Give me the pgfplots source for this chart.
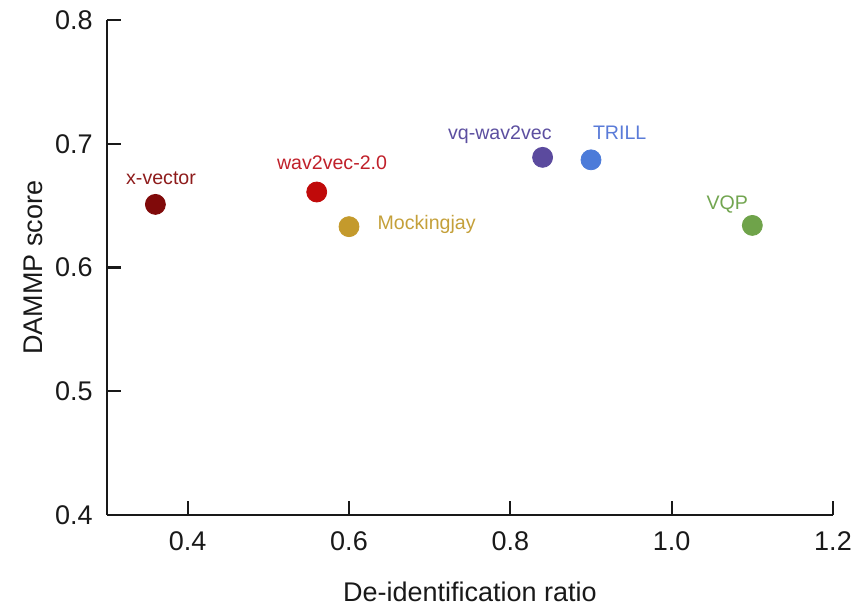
\documentclass[border=0pt]{standalone}
\usepackage{pgfplots}
\pgfplotsset{compat=1.18}
\usepackage{fontspec}
\setmainfont{Liberation Sans}
\definecolor{cxv}{HTML}{800A0A}
\definecolor{cw2}{HTML}{C00A0A}
\definecolor{cmj}{HTML}{C49A2C}
\definecolor{cvq}{HTML}{5B4A9E}
\definecolor{ctr}{HTML}{4C7BD9}
\definecolor{cvqp}{HTML}{6FA34A}
\definecolor{txv}{HTML}{8E1C1C}
\definecolor{tw2}{HTML}{C0202A}
\definecolor{tmj}{HTML}{C4A03A}
\definecolor{tvq}{HTML}{5C4FA0}
\definecolor{ttr}{HTML}{5A7BD8}
\definecolor{tvqp}{HTML}{72A550}
\begin{document}
\begin{tikzpicture}
\begin{axis}[
  name=ax,
  scale only axis,
  width=363pt, height=247.5pt,
  xmin=0.3, xmax=1.2, ymin=0.4, ymax=0.8,
  axis x line*=bottom, axis y line*=left,
  axis line style={-, line width=1.1pt, black!90},
  tick style={line width=1.1pt, black!90},
  major tick length=7pt,
  tick align=inside,
  xtick={0.4,0.6,0.8,1.0,1.2},
  ytick={0.4,0.5,0.6,0.7,0.8},
  /pgf/number format/assume math mode=true,
  /pgf/number format/fixed, /pgf/number format/fixed zerofill, /pgf/number format/precision=1,
  tick label style={font=\fontsize{13.5}{16}\selectfont, text=black!90, inner sep=0pt},
  xticklabel style={anchor=center, yshift=-13pt},
  yticklabel style={anchor=east, xshift=-7pt},
  xlabel={De-identification ratio},
  ylabel={DAMMP score},
  label style={font=\fontsize{13.5}{16}\selectfont, text=black!90, inner sep=0pt},
  xlabel style={at={(axis description cs:0.5,-0.1556)}, anchor=center},
  ylabel style={at={(axis description cs:-0.102,0.5)}, anchor=center, rotate=0},
  clip=false,
  only marks,
  every axis plot/.append style={mark=*, mark size=5pt},
]
\addplot[mark options={draw=cxv, fill=cxv}] coordinates {(0.36,0.651)};
\addplot[mark options={draw=cw2, fill=cw2}] coordinates {(0.56,0.661)};
\addplot[mark options={draw=cmj, fill=cmj}] coordinates {(0.60,0.633)};
\addplot[mark options={draw=cvq, fill=cvq}] coordinates {(0.84,0.689)};
\addplot[mark options={draw=ctr, fill=ctr}] coordinates {(0.90,0.687)};
\addplot[mark options={draw=cvqp, fill=cvqp}] coordinates {(1.10,0.634)};
\begin{scope}[every node/.style={font=\fontsize{9.8}{12}\selectfont, inner sep=0pt}]
\node[anchor=base, text=txv] at (axis cs:0.367,0.6667) {x-vector};
\node[anchor=base, text=tw2] at (axis cs:0.579,0.6788) {wav2vec-2.0};
\node[anchor=base west, text=tmj] at (axis cs:0.635,0.6303) {Mockingjay};
\node[anchor=base, text=tvq] at (axis cs:0.787,0.7038) {vq-wav2vec};
\node[anchor=base west, text=ttr] at (axis cs:0.902,0.7038) {TRILL};
\node[anchor=base, text=tvqp] at (axis cs:1.069,0.6465) {VQP};
\end{scope}
\end{axis}
\pgfresetboundingbox
\path ([shift={(-53.5pt,-46pt)}]ax.south west) rectangle ([shift={(12pt,10pt)}]ax.north east);
\end{tikzpicture}
\end{document}
